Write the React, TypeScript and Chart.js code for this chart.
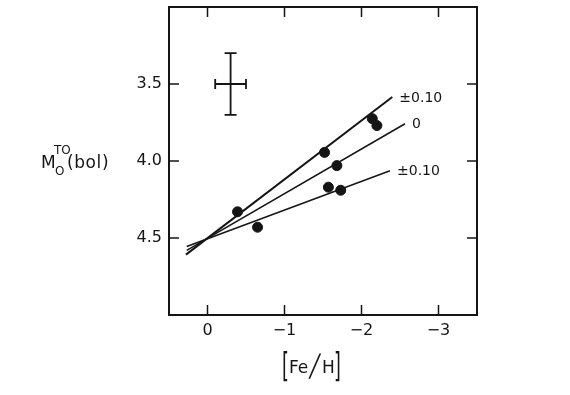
import React, { useEffect, useRef } from "react";
import { Chart, registerables } from "chart.js";
Chart.register(...registerables);

// Cluster data: [Fe/H] vs turnoff bolometric magnitude
const feH = [-0.39, -0.65, -1.52, -1.68, -1.57, -1.73, -2.14, -2.2];
const mboltTO = [4.33, 4.43, 3.944, 4.03, 4.17, 4.19, 3.725, 3.77];

// Fitted lines (endpoints)
const upperLineX = [0.28, -2.4];
const upperLineY = [4.608, 3.584];
const middleLineX = [0.27, -2.565];
const middleLineY = [4.58, 3.758];
const lowerLineX = [0.27, -2.37];
const lowerLineY = [4.555, 4.063];
const lineLabels = ["\u00b10.10", "0", "\u00b10.10"];

// Typical error cross
const errCenterX = [-0.3];
const errCenterY = [3.5];
const errHalfX = [0.2];
const errHalfY = [0.2];

// Axes
const xTicks = [0, -1, -2, -3];
const yTicks = [3.5, 4.0, 4.5];
const xMin = -3.5, xMax = 0.5;
const yMin = 3.0, yMax = 5.0;

const INK = "#151515";

const pts = (xs: number[], ys: number[]) => xs.map((x, i) => ({ x, y: ys[i] }));

function scaledText(ctx: CanvasRenderingContext2D, t: string, x: number, y: number, font: string, sx: number, sy: number, skew = 0) {
  ctx.save();
  ctx.translate(x, y);
  ctx.transform(sx, 0, skew, sy, 0, 0);
  ctx.font = font;
  ctx.fillText(t, 0, 0);
  ctx.restore();
}

const decor = {
  id: "decor",
  afterDraw(chart: any) {
    const ctx = chart.ctx as CanvasRenderingContext2D;
    const { left, right, top, bottom } = chart.chartArea;
    const xs = chart.scales.x, ys = chart.scales.y;
    ctx.save();
    ctx.strokeStyle = INK;
    ctx.fillStyle = INK;
    // frame
    ctx.lineWidth = 2;
    ctx.strokeRect(left, top, right - left, bottom - top);
    // inward ticks
    ctx.lineWidth = 1.5;
    const tl = 10;
    ctx.beginPath();
    for (const v of xTicks) {
      const px = xs.getPixelForValue(v);
      ctx.moveTo(px, bottom); ctx.lineTo(px, bottom - tl);
      ctx.moveTo(px, top); ctx.lineTo(px, top + tl);
    }
    for (const v of yTicks) {
      const py = ys.getPixelForValue(v);
      ctx.moveTo(left, py); ctx.lineTo(left + tl, py);
      ctx.moveTo(right, py); ctx.lineTo(right - tl, py);
    }
    ctx.stroke();
    // error cross
    for (let i = 0; i < errCenterX.length; i++) {
      const cx = xs.getPixelForValue(errCenterX[i]);
      const cy = ys.getPixelForValue(errCenterY[i]);
      const x1 = xs.getPixelForValue(errCenterX[i] + errHalfX[i]);
      const x2 = xs.getPixelForValue(errCenterX[i] - errHalfX[i]);
      const y1 = ys.getPixelForValue(errCenterY[i] - errHalfY[i]);
      const y2 = ys.getPixelForValue(errCenterY[i] + errHalfY[i]);
      ctx.lineWidth = 1.8;
      ctx.beginPath();
      ctx.moveTo(cx, y1); ctx.lineTo(cx, y2);
      ctx.moveTo(x1, cy); ctx.lineTo(x2, cy);
      ctx.moveTo(cx - 6, y1); ctx.lineTo(cx + 6, y1);
      ctx.moveTo(cx - 6, y2); ctx.lineTo(cx + 6, y2);
      ctx.moveTo(x1, cy - 5); ctx.lineTo(x1, cy + 5);
      ctx.moveTo(x2, cy - 5); ctx.lineTo(x2, cy + 5);
      ctx.stroke();
    }
    // line labels
    const ends = [
      [upperLineX[1], upperLineY[1]],
      [middleLineX[1], middleLineY[1]],
      [lowerLineX[1], lowerLineY[1]],
    ];
    ctx.font = "14px 'DejaVu Sans'";
    ctx.textBaseline = "middle";
    ctx.textAlign = "left";
    ends.forEach(([x, y], i) => {
      const px = xs.getPixelForValue(x);
      const py = ys.getPixelForValue(y);
      ctx.fillText(lineLabels[i], px + 7, py + 1);
    });
    // y title: M_o^TO(bol)
    ctx.textBaseline = "alphabetic";
    ctx.font = "17px 'DejaVu Sans'";
    ctx.fillText("M", 41, 168);
    ctx.font = "12px 'DejaVu Sans'";
    ctx.fillText("TO", 54, 154);
    ctx.fillText("O", 55, 175);
    ctx.font = "17px 'DejaVu Sans'";
    (ctx as any).letterSpacing = "0.6px";
    ctx.fillText("(bol)", 67, 168);
    (ctx as any).letterSpacing = "0px";
    // x title: [Fe/H]
    scaledText(ctx, "[", 282, 377, "16px 'DejaVu Sans'", 1.1, 2.05);
    scaledText(ctx, "]", 334, 377, "16px 'DejaVu Sans'", 1.1, 2.05);
    ctx.font = "17px 'DejaVu Sans'";
    ctx.fillText("Fe", 289, 373);
    ctx.fillText("H", 322, 373);
    scaledText(ctx, "/", 309, 376, "14px 'DejaVu Sans'", 1.5, 2.2, -0.5);
    ctx.restore();
  },
};

export default function App() {
  const ref = useRef<HTMLCanvasElement>(null);
  useEffect(() => {
    const chart = new Chart(ref.current!, {
      type: "scatter",
      data: {
        datasets: [
          {
            data: pts(upperLineX, upperLineY),
            showLine: true,
            borderColor: INK,
            borderWidth: 2,
            pointRadius: 0,
          },
          {
            data: pts(middleLineX, middleLineY),
            showLine: true,
            borderColor: INK,
            borderWidth: 1.5,
            pointRadius: 0,
          },
          {
            data: pts(lowerLineX, lowerLineY),
            showLine: true,
            borderColor: INK,
            borderWidth: 1.5,
            pointRadius: 0,
          },
          {
            data: pts(feH, mboltTO),
            backgroundColor: INK,
            borderColor: INK,
            pointRadius: 5,
            showLine: false,
          },
        ],
      } as any,
      options: {
        responsive: false,
        devicePixelRatio: 1,
        animation: false,
        layout: { padding: { left: 0, top: 7, right: 93, bottom: 0 } },
        plugins: { legend: { display: false }, tooltip: { enabled: false } },
        scales: {
          x: {
            type: "linear",
            reverse: true,
            min: xMin,
            max: xMax,
            grid: { display: false, drawTicks: false },
            border: { display: false },
            afterBuildTicks: (s: any) => {
              s.ticks = xTicks.map((v) => ({ value: v }));
            },
            afterFit: (s: any) => {
              s.height = 80;
              s.paddingLeft = 0;
              s.paddingRight = 0;
            },
            ticks: {
              color: INK,
              padding: 6,
              maxRotation: 0,
              font: { family: "'DejaVu Sans'", size: 16 },
              callback: (v: any) => (v === 0 ? "0" : "\u2212" + Math.abs(v)),
            },
          },
          y: {
            type: "linear",
            reverse: true,
            min: yMin,
            max: yMax,
            grid: { display: false, drawTicks: false },
            border: { display: false },
            afterBuildTicks: (s: any) => {
              s.ticks = yTicks.map((v) => ({ value: v }));
            },
            afterFit: (s: any) => {
              s.width = 169;
              s.paddingTop = 0;
              s.paddingBottom = 0;
            },
            ticks: {
              color: INK,
              padding: 7,
              font: { family: "'DejaVu Sans'", size: 16 },
              callback: (v: any) => Number(v).toFixed(1),
            },
          },
        },
      },
      plugins: [decor],
    } as any);
    return () => chart.destroy();
  }, []);
  return (
    <div style={{ position: "fixed", left: 0, top: 0, width: 570, height: 395, background: "#fff" }}>
      <canvas ref={ref} width={570} height={395} style={{ width: 570, height: 395, display: "block" }} />
    </div>
  );
}
